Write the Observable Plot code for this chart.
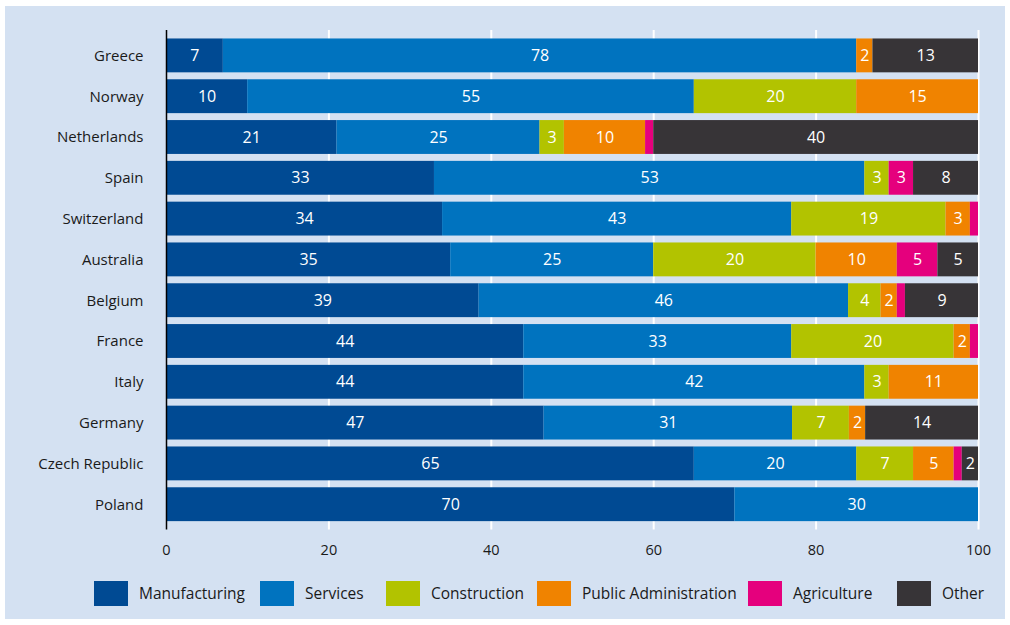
<!DOCTYPE html>
<html>
<head>
<meta charset="utf-8">
<script src="https://cdn.jsdelivr.net/npm/d3@7"></script>
<script src="https://cdn.jsdelivr.net/npm/@observablehq/plot@0.6"></script>
<style>
  html, body { margin: 0; padding: 0; background: #ffffff; }
  #frame { position: absolute; left: 5px; top: 6px; width: 1000px; height: 613px; background: #d4e1f2; }
  #chart { position: absolute; left: 0; top: 0; }
  #legend { position: absolute; left: 0; top: 580px; width: 1010px; height: 26px; font-family: "Open Sans", sans-serif; font-size: 15.5px; color: #1a1a1a; }
  .item { position: absolute; top: 0; display: flex; align-items: center; height: 26px; }
  .sw { width: 34px; height: 25px; margin-right: 11px; }
  svg text { font-family: "Open Sans", sans-serif; }
</style>
</head>
<body>
<div id="frame"></div>
<div id="chart"></div>
<div id="legend"></div>
<script>
const countries = ["Greece","Norway","Netherlands","Spain","Switzerland","Australia","Belgium","France","Italy","Germany","Czech Republic","Poland"];
const sectors = ["Manufacturing","Services","Construction","Public Administration","Agriculture","Other"];
const colors = ["#004a93","#0073bf","#b2c300","#f08300","#e5007d","#373437"];

const manufacturing = [7, 10, 21, 33, 34, 35, 38.5, 44, 44, 46.5, 65, 70];
const services      = [78, 55, 25, 53, 43, 25, 45.5, 33, 42, 30.6, 20, 30];
const construction  = [0, 20, 3, 3, 19, 20, 4, 20, 3, 7, 7, 0];
const publicAdmin   = [2, 15, 10, 0, 3, 10, 2, 2, 11, 2, 5, 0];
const agriculture   = [0, 0, 1, 3, 1, 5, 1, 1, 0, 0, 1, 0];
const other         = [13, 0, 40, 8, 0, 5, 9, 0, 0, 13.9, 2, 0];
const xTicks = [0, 20, 40, 60, 80, 100];

const series = [manufacturing, services, construction, publicAdmin, agriculture, other];
const rows = [];
countries.forEach((c, i) => {
  sectors.forEach((s, j) => {
    const v = series[j][i];
    if (v > 0) rows.push({country: c, sector: s, value: v});
  });
});

const chart = Plot.plot({
  width: 1010,
  height: 570,
  marginTop: 35,
  marginBottom: 45.4,
  marginLeft: 166,
  marginRight: 32,
  style: {background: "transparent", fontSize: "15px", fontFamily: "Open Sans, sans-serif", color: "#1a1a1a"},
  x: {domain: [0, 100], ticks: xTicks, label: null},
  y: {domain: countries, paddingInner: 0.17, paddingOuter: 0.085, round: false, label: null},
  color: {domain: sectors, range: colors},
  marks: [
    Plot.ruleX(xTicks.slice(1), {stroke: "#ffffff", strokeWidth: 2, insetTop: -5, insetBottom: -5}),
    Plot.barX(rows, {x: "value", y: "country", fill: "sector", z: "sector", order: null}),
    Plot.text(rows, Plot.stackX({x: "value", y: "country", z: "sector", order: null,
      text: d => d.value >= 2 ? String(Math.round(d.value)) : "", fill: "white", fontSize: 16})),
    Plot.ruleX([0], {stroke: "#000000", strokeWidth: 1.5, insetTop: -5, insetBottom: -5}),
    Plot.axisX({ticks: xTicks, tickSize: 0, tickPadding: 20, fontSize: 14.5, label: null, color: "#1a1a1a"}),
    Plot.axisY({tickSize: 0, tickPadding: 23, fontSize: 15, label: null, color: "#1a1a1a"})
  ]
});
document.getElementById("chart").appendChild(chart);

const legendX = [94, 260, 386, 537, 748, 897];
const legend = document.getElementById("legend");
sectors.forEach((s, i) => {
  const item = document.createElement("div");
  item.className = "item";
  item.style.left = legendX[i] + "px";
  const sw = document.createElement("div");
  sw.className = "sw";
  sw.style.background = colors[i];
  const lab = document.createElement("span");
  lab.textContent = s;
  item.appendChild(sw);
  item.appendChild(lab);
  legend.appendChild(item);
});
</script>
</body>
</html>
